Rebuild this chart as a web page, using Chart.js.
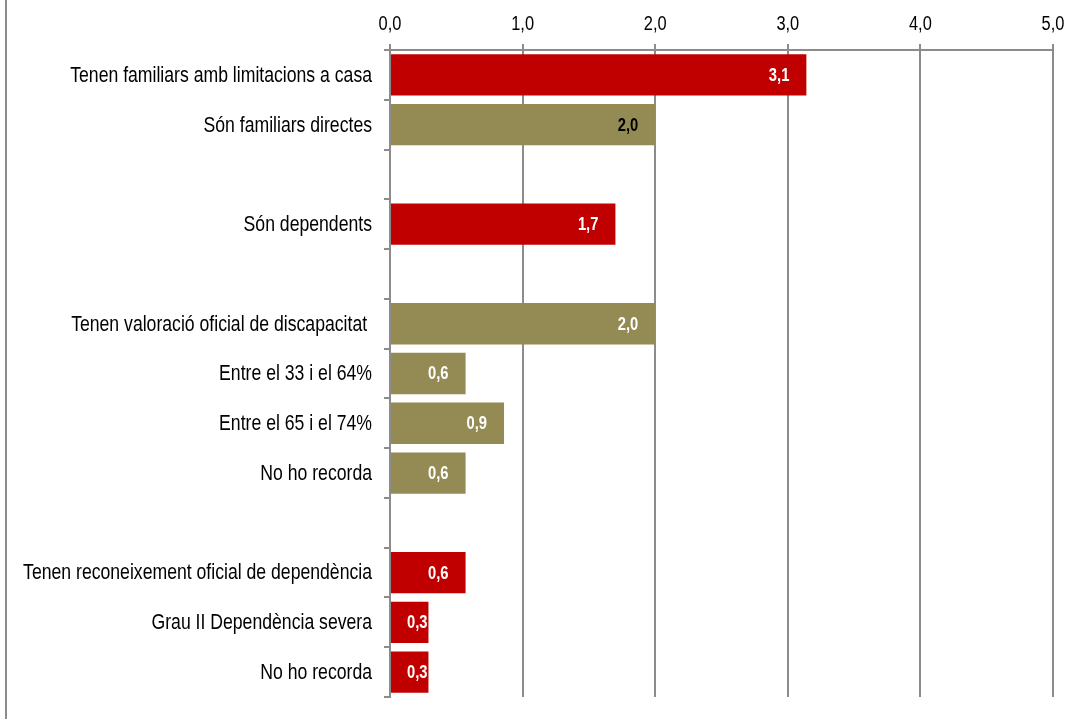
<!DOCTYPE html>
<html>
<head>
<meta charset="utf-8">
<script src="https://cdn.jsdelivr.net/npm/chart.js@4/dist/chart.umd.min.js"></script>
<style>
  html, body { margin: 0; padding: 0; background: #fff; }
  #wrap { position: relative; width: 1090px; height: 719px; }
  #wrap:before { content: ''; position: absolute; left: 5px; top: 0; bottom: 0; border-left: 2px solid #8c8c8c; }
</style>
</head>
<body>
<div id="wrap"><canvas id="chart" width="1090" height="719"></canvas></div>
<script>
// categories (blank ones are spacer rows)
const categories = [
    'Tenen familiars amb limitacions a casa',
    'Són familiars directes',
    '',
    'Són dependents',
    '',
    'Tenen valoració oficial de discapacitat ',
    'Entre el 33 i el 64%',
    'Entre el 65 i el 74%',
    'No ho recorda',
    '',
    'Tenen reconeixement oficial de dependència',
    'Grau II Dependència severa',
    'No ho recorda'
];
const values = [3.14, 2.0, null, 1.7, null, 2.0, 0.57, 0.86, 0.57, null, 0.57, 0.29, 0.29];
const barColors = ['#C00000', '#948A54', null, '#C00000', null, '#948A54', '#948A54', '#948A54', '#948A54', null, '#C00000', '#C00000', '#C00000'];
const labelColors = ['#fff', '#000', null, '#fff', null, '#fff', '#fff', '#fff', '#fff', null, '#fff', '#fff', '#fff'];
const xTicks = [0, 1, 2, 3, 4, 5];

// no narrow font available, so squeeze a normal one horizontally
const FONT = "'Liberation Sans', Arial, sans-serif";
const NARROW = 0.82;
const GRID = '#8c8c8c';

function fmt(v) {
    return v.toFixed(1).replace('.', ',');
}

function narrowText(ctx, text, x, y, align) {
    const w = ctx.measureText(text).width * NARROW;
    let left = x;
    if (align === 'right') left = x - w;
    if (align === 'center') left = x - w / 2;
    ctx.save();
    ctx.translate(left, y);
    ctx.scale(NARROW, 1);
    ctx.textAlign = 'left';
    ctx.fillText(text, 0, 0);
    ctx.restore();
    return w;
}

const narrowLabels = {
    id: 'narrowLabels',
    afterDraw(chart) {
        const ctx = chart.ctx;
        const xs = chart.scales.x;
        const ys = chart.scales.y;
        ctx.save();
        ctx.textBaseline = 'middle';
        ctx.fillStyle = '#000';

        ctx.font = '20px ' + FONT;
        xTicks.forEach(v => {
            narrowText(ctx, fmt(v), xs.getPixelForValue(v), 24, 'center');
        });

        ctx.font = '21.5px ' + FONT;
        categories.forEach((c, i) => {
            if (!c) return;
            narrowText(ctx, c, ys.left + ys.width - 18, ys.getPixelForTick(i) + 1, 'right');
        });

        ctx.font = 'bold 18px ' + FONT;
        const meta = chart.getDatasetMeta(0);
        meta.data.forEach((bar, i) => {
            if (values[i] === null) return;
            const txt = fmt(values[i]);
            const w = ctx.measureText(txt).width * NARROW;
            const right = Math.min(bar.x - 1, Math.max(bar.x - 17, bar.base + 16 + w));
            ctx.fillStyle = labelColors[i];
            narrowText(ctx, txt, right, bar.y + 1, 'right');
        });
        ctx.restore();
    }
};

new Chart(document.getElementById('chart'), {
    type: 'bar',
    data: {
        labels: categories,
        datasets: [{
            data: values,
            backgroundColor: barColors,
            barPercentage: 0.83,
            categoryPercentage: 1
        }]
    },
    options: {
        indexAxis: 'y',
        responsive: false,
        animation: false,
        layout: { padding: { left: 10, right: 37, top: 0, bottom: 22 } },
        plugins: {
            legend: { display: false },
            tooltip: { enabled: false }
        },
        scales: {
            x: {
                position: 'top',
                min: 0,
                max: 5,
                afterBuildTicks(scale) {
                    scale.ticks = xTicks.map(v => ({ value: v }));
                },
                afterFit(scale) { scale.height = 50; },
                ticks: { display: false },
                grid: { color: GRID, lineWidth: 2, tickLength: 6 },
                border: { color: GRID, width: 2 }
            },
            y: {
                afterFit(scale) { scale.width = 380; },
                ticks: { display: false, autoSkip: false },
                grid: { drawOnChartArea: false, color: GRID, lineWidth: 2, tickLength: 6 },
                border: { color: GRID, width: 2 }
            }
        }
    },
    plugins: [narrowLabels]
});
</script>
</body>
</html>
